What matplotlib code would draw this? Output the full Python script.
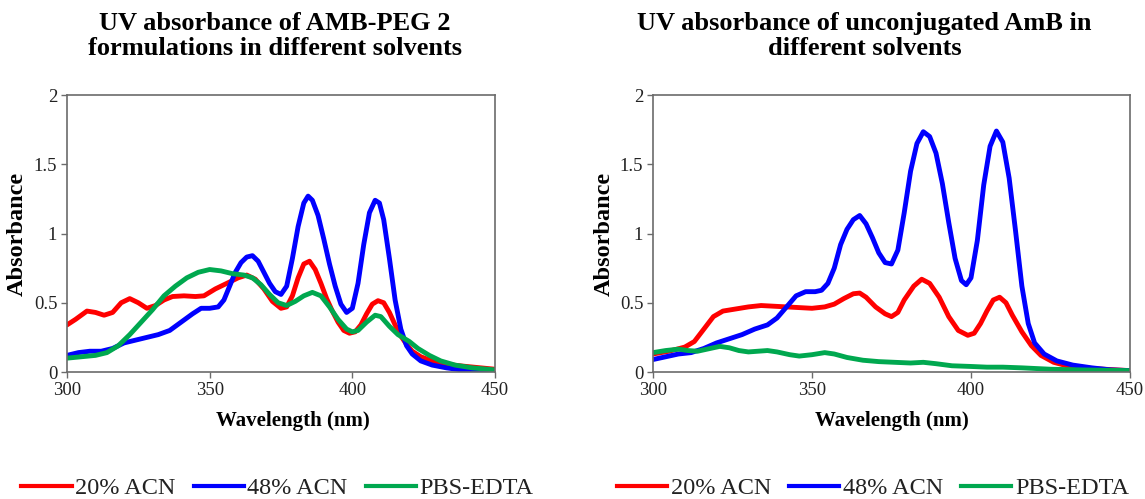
import matplotlib.pyplot as plt
from matplotlib.lines import Line2D

plt.rcParams['font.family'] = ['Liberation Serif', 'DejaVu Serif']

# left panel: AMB-PEG 2 formulations
l_red_x = [300, 303, 307, 310, 313, 316, 319, 322, 325, 328, 331, 334, 337, 341, 345, 348, 352, 356, 360, 363,
           366, 369, 372, 375, 377, 379, 381, 383, 385, 387, 389, 391, 393, 395, 397, 399, 401, 403, 405, 407,
           409, 411, 413, 415, 417, 419, 421, 424, 428, 433, 440, 445, 450]
l_red_y = [0.34, 0.38, 0.44, 0.43, 0.41, 0.43, 0.50, 0.53, 0.50, 0.46, 0.48, 0.52, 0.545, 0.55, 0.545, 0.55,
           0.60, 0.64, 0.68, 0.70, 0.67, 0.60, 0.51, 0.46, 0.47, 0.55, 0.68, 0.78, 0.80, 0.74, 0.64, 0.53, 0.44,
           0.36, 0.30, 0.28, 0.29, 0.34, 0.42, 0.49, 0.515, 0.50, 0.43, 0.34, 0.26, 0.20, 0.15, 0.11, 0.08,
           0.055, 0.04, 0.03, 0.02]
l_blue_x = [300, 304, 308, 312, 316, 320, 324, 328, 332, 336, 340, 344, 347, 350, 353, 355, 357, 359, 361, 363,
            365, 367, 369, 371, 373, 375, 377, 379, 381, 383, 384.5, 386, 388, 390, 392, 394, 396, 398, 400, 402,
            404, 406, 408, 409.5, 411, 413, 415, 417, 419, 421, 424, 428, 433, 440, 450]
l_blue_y = [0.12, 0.14, 0.15, 0.15, 0.17, 0.21, 0.23, 0.25, 0.27, 0.30, 0.36, 0.42, 0.46, 0.46, 0.47, 0.52,
            0.62, 0.72, 0.79, 0.83, 0.84, 0.80, 0.72, 0.64, 0.58, 0.56, 0.62, 0.82, 1.05, 1.22, 1.27, 1.24, 1.13,
            0.96, 0.78, 0.62, 0.49, 0.43, 0.46, 0.64, 0.92, 1.15, 1.24, 1.22, 1.10, 0.82, 0.52, 0.31, 0.19, 0.13,
            0.08, 0.05, 0.03, 0.01, 0.005]
l_green_x = [300, 305, 310, 314, 318, 322, 326, 330, 334, 338, 342, 346, 350, 354, 358, 362, 365, 368, 371, 374,
             377, 380, 383, 386, 389, 392, 395, 398, 400, 402, 405, 408, 410, 413, 416, 420, 423, 427, 431, 436,
             442, 450]
l_green_y = [0.10, 0.11, 0.12, 0.14, 0.19, 0.27, 0.36, 0.45, 0.55, 0.62, 0.68, 0.72, 0.74, 0.73, 0.71, 0.70,
             0.68, 0.63, 0.56, 0.50, 0.48, 0.51, 0.55, 0.575, 0.55, 0.47, 0.38, 0.31, 0.29, 0.30, 0.36, 0.41, 0.40,
             0.33, 0.27, 0.22, 0.17, 0.12, 0.08, 0.05, 0.03, 0.015]

# right panel: unconjugated AmB
r_red_x = [300, 305, 310, 313, 316, 319, 322, 326, 330, 334, 338, 342, 346, 350, 354, 357, 360, 363, 365, 367,
           370, 373, 375, 377, 379, 382, 384.5, 387, 390, 393, 396, 399, 401, 403, 405, 407, 409, 411, 413, 416,
           419, 422, 426, 431, 438, 450]
r_red_y = [0.13, 0.15, 0.18, 0.22, 0.31, 0.40, 0.44, 0.455, 0.47, 0.48, 0.475, 0.47, 0.465, 0.46, 0.47, 0.49,
           0.53, 0.565, 0.57, 0.54, 0.47, 0.42, 0.40, 0.43, 0.52, 0.62, 0.67, 0.64, 0.54, 0.40, 0.30, 0.265, 0.28,
           0.35, 0.44, 0.52, 0.54, 0.50, 0.41, 0.29, 0.19, 0.12, 0.07, 0.04, 0.025, 0.01]
r_blue_x = [300, 304, 308, 312, 316, 320, 324, 328, 332, 336, 339, 342, 345, 348, 351, 353, 355, 357, 359, 361,
            363, 365, 367, 369, 371, 373, 375, 377, 379, 381, 383, 385, 387, 389, 391, 393, 395, 397, 398.5, 400,
            402, 404, 406, 408, 410, 412, 414, 416, 418, 420, 423, 427, 432, 438, 444, 450]
r_blue_y = [0.09, 0.11, 0.13, 0.14, 0.17, 0.21, 0.24, 0.27, 0.31, 0.34, 0.39, 0.47, 0.55, 0.58, 0.58, 0.59,
            0.64, 0.75, 0.92, 1.03, 1.10, 1.13, 1.07, 0.97, 0.86, 0.79, 0.78, 0.88, 1.15, 1.45, 1.65, 1.735, 1.70,
            1.58, 1.36, 1.08, 0.82, 0.66, 0.63, 0.68, 0.95, 1.35, 1.63, 1.74, 1.66, 1.40, 1.02, 0.62, 0.35, 0.21,
            0.13, 0.08, 0.05, 0.03, 0.015, 0.01]
r_green_x = [300, 304, 308, 311, 314, 318, 321, 324, 327, 330, 333, 336, 339, 343, 346, 350, 354, 357, 361, 366,
             371, 376, 381, 385, 389, 394, 400, 405, 410, 416, 425, 435, 450]
r_green_y = [0.14, 0.155, 0.165, 0.155, 0.15, 0.17, 0.185, 0.175, 0.155, 0.145, 0.15, 0.155, 0.145, 0.125,
             0.115, 0.125, 0.14, 0.13, 0.105, 0.085, 0.075, 0.07, 0.065, 0.07, 0.06, 0.045, 0.04, 0.035, 0.035,
             0.03, 0.02, 0.015, 0.01]

labels = ['20% ACN', '48% ACN', 'PBS-EDTA']
colors = ['#ff0000', '#0000ff', '#00a84f']
titles = ['UV absorbance of AMB-PEG 2\nformulations in different solvents',
          'UV absorbance of unconjugated AmB in\ndifferent solvents']

panels = [
    ([l_red_x, l_blue_x, l_green_x], [l_red_y, l_blue_y, l_green_y]),
    ([r_red_x, r_blue_x, r_green_x], [r_red_y, r_blue_y, r_green_y]),
]

fig = plt.figure(figsize=(11.45, 4.99), dpi=100)
ax_rects = [[0.0585, 0.2545, 0.3738, 0.5551], [0.5703, 0.2545, 0.4166, 0.5551]]
title_x = [0.240, 0.755]
legend_x = [0.2424, 0.7624]
ylab_x = [-0.091, -0.080]
xlab_x = [0.528, 0.5]

for i, (xs, ys) in enumerate(panels):
    ax = fig.add_axes(ax_rects[i])
    for x, y, c in zip(xs, ys, colors):
        ax.plot(x, y, color=c, lw=3.5, solid_joinstyle='round', solid_capstyle='round')
    ax.set_xlim(300, 450)
    ax.set_ylim(0, 2)
    ax.set_xticks([300, 350, 400, 450])
    ax.set_yticks([0, 0.5, 1, 1.5, 2])
    ax.set_yticklabels(['0', '0.5', '1', '1.5', '2'])
    for s in ax.spines.values():
        s.set_color('#6b6b6b')
        s.set_linewidth(1.2)
    ax.tick_params(direction='out', length=4, width=1, color='#6b6b6b',
                   labelsize=13.5, labelcolor='#222222', pad=3)
    ax.set_xlabel('Wavelength (nm)', fontsize=15, fontweight='bold')
    ax.xaxis.set_label_coords(xlab_x[i], -0.141)
    ax.set_ylabel('Absorbance', fontsize=17.5, fontweight='bold')
    ax.yaxis.set_label_coords(ylab_x[i], 0.5)
    fig.text(title_x[i], 1 - 55 / 499, titles[i], ha='center', va='baseline',
             fontsize=19, fontweight='bold', linespacing=1.12)

    handles = [Line2D([], [], color=c, lw=3) for c in colors]
    fig.legend(handles, labels, loc='center', bbox_to_anchor=(legend_x[i], 0.022), ncol=3,
               frameon=False, fontsize=17.5, handlelength=2.06, handletextpad=0.15,
               columnspacing=0.75, labelcolor='#222222')

fig.savefig('out.png', dpi=100)
